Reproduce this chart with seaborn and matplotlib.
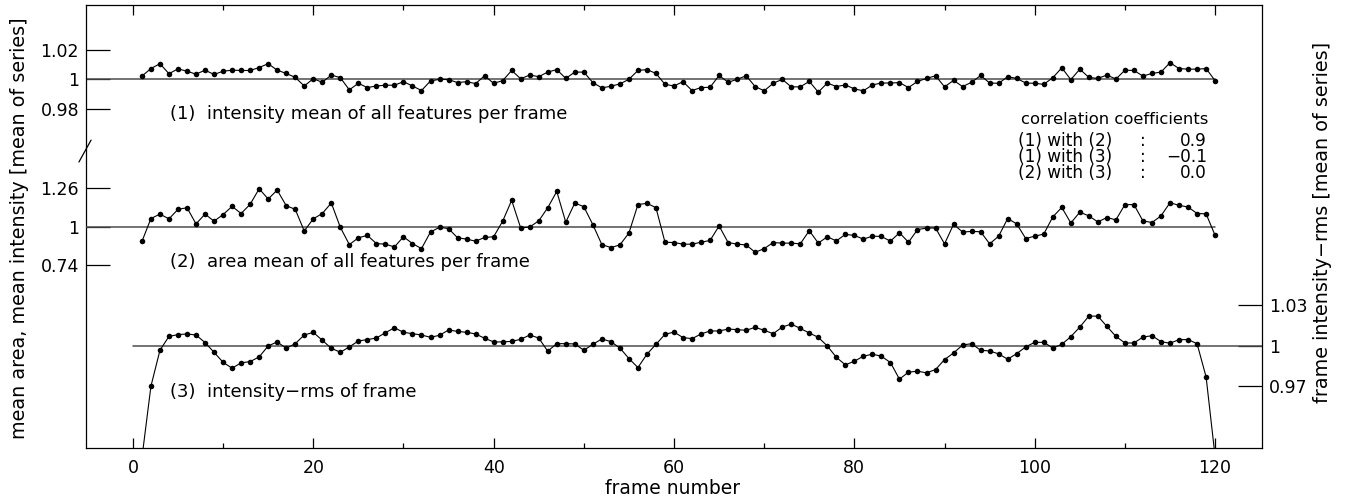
import matplotlib.pyplot as plt
import seaborn as sns
from matplotlib.ticker import MultipleLocator

# frame numbers 1..120
frames = list(range(1, 121))

# (1) intensity mean of all features per frame, normalised to series mean
intensity_mean = [
    1.0020, 1.0071, 1.0104, 1.0036, 1.0069, 1.0053, 1.0033, 1.0060, 1.0031, 1.0053,
    1.0060, 1.0058, 1.0058, 1.0078, 1.0104, 1.0060, 1.0038, 1.0011, 0.9953, 1.0002,
    0.9978, 1.0027, 1.0009, 0.9927, 0.9971, 0.9942, 0.9953, 0.9958, 0.9958, 0.9982,
    0.9953, 0.9922, 0.9987, 0.9998, 0.9996, 0.9976, 0.9982, 0.9969, 1.0022, 0.9971,
    0.9989, 1.0058, 1.0002, 1.0027, 1.0016, 1.0047, 1.0064, 1.0004, 1.0047, 1.0047,
    0.9976, 0.9940, 0.9951, 0.9967, 0.9998, 1.0058, 1.0064, 1.0038, 0.9964, 0.9953,
    0.9982, 0.9922, 0.9942, 0.9944, 1.0024, 0.9978, 0.9998, 1.0022, 0.9949, 0.9920,
    0.9971, 0.9998, 0.9947, 0.9947, 0.9984, 0.9911, 0.9973, 0.9949, 0.9960, 0.9933,
    0.9920, 0.9960, 0.9973, 0.9973, 0.9976, 0.9942, 0.9984, 1.0004, 1.0022, 0.9947,
    0.9991, 0.9949, 0.9978, 1.0024, 0.9973, 0.9971, 1.0016, 1.0004, 0.9973, 0.9971,
    0.9964, 1.0009, 1.0076, 0.9996, 1.0067, 1.0011, 1.0004, 1.0027, 1.0000, 1.0060,
    1.0058, 1.0020, 1.0038, 1.0047, 1.0111, 1.0071, 1.0067, 1.0067, 1.0071, 0.9989,
]

# (2) area mean of all features per frame
area_mean = [
    0.902, 1.057, 1.087, 1.055, 1.119, 1.130, 1.021, 1.087, 1.039, 1.084,
    1.139, 1.091, 1.153, 1.258, 1.189, 1.249, 1.144, 1.119, 0.973, 1.055,
    1.091, 1.162, 0.998, 0.881, 0.927, 0.943, 0.888, 0.884, 0.865, 0.934,
    0.888, 0.854, 0.966, 0.998, 0.989, 0.927, 0.918, 0.904, 0.929, 0.934,
    1.039, 1.180, 0.993, 1.000, 1.041, 1.130, 1.240, 1.032, 1.162, 1.137,
    1.016, 0.881, 0.861, 0.879, 0.959, 1.151, 1.160, 1.130, 0.897, 0.895,
    0.884, 0.884, 0.897, 0.909, 1.007, 0.895, 0.884, 0.879, 0.829, 0.854,
    0.895, 0.891, 0.891, 0.886, 0.975, 0.891, 0.934, 0.906, 0.950, 0.943,
    0.918, 0.938, 0.936, 0.904, 0.961, 0.897, 0.982, 0.993, 0.993, 0.886,
    1.018, 0.966, 0.970, 0.968, 0.886, 0.938, 1.057, 1.021, 0.922, 0.938,
    0.952, 1.068, 1.132, 1.027, 1.100, 1.075, 1.034, 1.064, 1.048, 1.151,
    1.151, 1.041, 1.030, 1.075, 1.164, 1.146, 1.135, 1.091, 1.089, 0.943,
]

# (3) intensity-rms of frame
intensity_rms = [
    0.9170, 0.9702, 0.9968, 1.0071, 1.0084, 1.0089, 1.0081, 1.0025, 0.9953, 0.9879,
    0.9835, 0.9875, 0.9884, 0.9919, 1.0000, 1.0030, 0.9983, 1.0017, 1.0081, 1.0101,
    1.0042, 0.9983, 0.9953, 0.9993, 1.0037, 1.0047, 1.0059, 1.0098, 1.0135, 1.0101,
    1.0091, 1.0081, 1.0064, 1.0079, 1.0118, 1.0108, 1.0101, 1.0089, 1.0057, 1.0030,
    1.0030, 1.0034, 1.0049, 1.0081, 1.0059, 0.9961, 1.0017, 1.0017, 1.0015, 0.9968,
    1.0012, 1.0052, 1.0032, 0.9985, 0.9907, 0.9840, 0.9939, 1.0012, 1.0086, 1.0103,
    1.0062, 1.0054, 1.0089, 1.0111, 1.0111, 1.0125, 1.0121, 1.0116, 1.0138, 1.0116,
    1.0091, 1.0140, 1.0162, 1.0130, 1.0096, 1.0064, 1.0000, 0.9916, 0.9860, 0.9887,
    0.9924, 0.9939, 0.9924, 0.9877, 0.9754, 0.9806, 0.9813, 0.9801, 0.9825, 0.9899,
    0.9948, 1.0007, 1.0017, 0.9968, 0.9963, 0.9941, 0.9902, 0.9943, 0.9993, 1.0027,
    1.0027, 0.9985, 1.0012, 1.0069, 1.0140, 1.0221, 1.0221, 1.0145, 1.0071, 1.0022,
    1.0022, 1.0066, 1.0076, 1.0032, 1.0020, 1.0047, 1.0047, 1.0017, 0.9771, 0.9180,
]

corr_rows = ["(1) with (2)", "(1) with (3)", "(2) with (3)"]
corr_values = ["0.9", "\u22120.1", "0.0"]

sns.set_style("ticks")
plt.rcParams['font.family'] = ['DejaVu Sans']
plt.rcParams['font.size'] = 12.5
for key in ('text.color', 'axes.labelcolor', 'xtick.color', 'ytick.color',
            'axes.edgecolor'):
    plt.rcParams[key] = 'black'

W, H = 1354, 501
fig = plt.figure(figsize=(W / 100, H / 100), dpi=100)
rect = [86 / W, 1 - 448 / H, (1262 - 86) / W, (448 - 5) / H]

ax1 = fig.add_axes(rect)
ax2 = fig.add_axes(rect, sharex=ax1)
ax3 = fig.add_axes(rect, sharex=ax1)
for ax in (ax2, ax3):
    ax.patch.set_visible(False)
    for sp in ax.spines.values():
        sp.set_visible(False)

line_kw = dict(color='black', marker='o', markersize=4, markeredgewidth=0,
               linewidth=0.8)
sns.lineplot(x=frames, y=intensity_mean, ax=ax1, **line_kw)
sns.lineplot(x=frames, y=area_mean, ax=ax2, **line_kw)
sns.lineplot(x=frames, y=intensity_rms, ax=ax3, **line_kw)

# reference lines at the series mean
ax1.plot([-5.2, 120], [1, 1], color='0.3', lw=1.1, zorder=1)
ax2.plot([-5.2, 120], [1, 1], color='0.3', lw=1.1, zorder=1)
ax3.plot([0, 125.2], [1, 1], color='0.3', lw=1.1, zorder=1)

ax1.set_xlim(-5.2, 125.2)
ax1.set_ylim(0.7498, 1.0502)
ax2.set_ylim(-0.4925, 2.499)
ax3.set_ylim(0.9244, 1.2526)

for sp in ax1.spines.values():
    sp.set_visible(True)
    sp.set_linewidth(0.9)
    sp.set_color('black')

ax1.set_xticks(range(0, 121, 20))
ax1.xaxis.set_minor_locator(MultipleLocator(10))
ax1.tick_params(axis='x', which='both', direction='in', top=True, bottom=True,
                width=0.9, pad=8)
ax1.tick_params(axis='x', which='major', length=7)
ax1.tick_params(axis='x', which='minor', length=3.5)

ax1.set_yticks([0.98, 1, 1.02], ['0.98', '1', '1.02'])
ax1.tick_params(axis='y', direction='in', length=17, width=0.9, pad=5,
                left=True, right=False)

ax2.set_yticks([0.74, 1, 1.26], ['0.74', '1', '1.26'])
ax2.tick_params(axis='y', direction='in', length=17, width=0.9, pad=5,
                left=True, right=False)
ax2.tick_params(axis='x', which='both', bottom=False, top=False,
                labelbottom=False)

ax3.yaxis.tick_right()
ax3.set_yticks([0.97, 1, 1.03], ['0.97', '1', '1.03'])
ax3.tick_params(axis='y', direction='in', length=17, width=0.9, pad=5,
                left=False, right=True, labelright=True, labelleft=False)
ax3.tick_params(axis='x', which='both', bottom=False, top=False,
                labelbottom=False)

for ax in (ax1, ax2, ax3):
    ax.set_xlabel('')
    ax.set_ylabel('')

# axis break mark on the left axis
ax1.plot([-0.006, 0.0043], [0.6456, 0.695], transform=ax1.transAxes,
         color='black', lw=0.9, clip_on=False)

def px(x, y):
    return x / W, 1 - y / H

fig.text(*px(20, 228), "mean area, mean intensity [mean of series]",
         rotation=90, ha='center', va='center', fontsize=13.8)
fig.text(*px(1322, 222), "frame intensity\u2212rms [mean of series]",
         rotation=90, ha='center', va='center', fontsize=13.8)
fig.text(*px(673, 488), "frame number", ha='center', va='center',
         fontsize=13.5)

fig.text(*px(170, 114), "(1)  intensity mean of all features per frame",
         ha='left', va='center', fontsize=13)
fig.text(*px(170, 262), "(2)  area mean of all features per frame",
         ha='left', va='center', fontsize=13)
fig.text(*px(170, 392), "(3)  intensity\u2212rms of frame",
         ha='left', va='center', fontsize=13)

fig.text(*px(1021, 120), "correlation coefficients", ha='left',
         va='center', fontsize=11.8)
for i, (row, val) in enumerate(zip(corr_rows, corr_values)):
    y = 141 + 16 * i
    fig.text(*px(1018, y), row, ha='left', va='center', fontsize=12.2)
    fig.text(*px(1143, y), ":", ha='center', va='center', fontsize=12.2)
    fig.text(*px(1207, y), val, ha='right', va='center', fontsize=12.2)

fig.savefig("out.png", dpi=100)
